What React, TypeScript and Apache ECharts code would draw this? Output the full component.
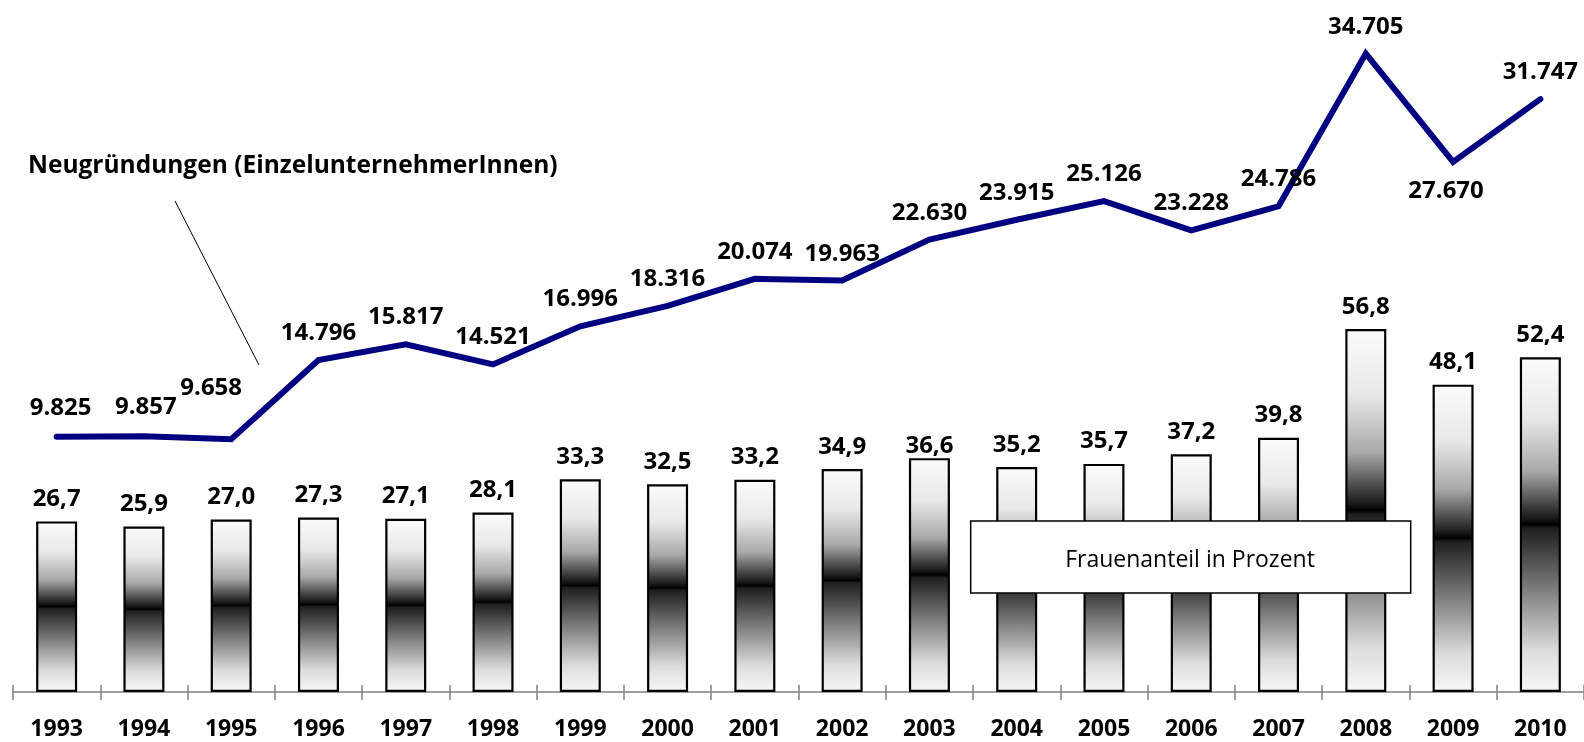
import React, { useEffect, useRef } from 'react';
import * as echarts from 'echarts';

const years = ['1993', '1994', '1995', '1996', '1997', '1998', '1999', '2000', '2001', '2002', '2003', '2004', '2005', '2006', '2007', '2008', '2009', '2010'];
const womenShare = [26.7, 25.9, 27.0, 27.3, 27.1, 28.1, 33.3, 32.5, 33.2, 34.9, 36.6, 35.2, 35.7, 37.2, 39.8, 56.8, 48.1, 52.4];
const startups = [9825, 9857, 9658, 14796, 15817, 14521, 16996, 18316, 20074, 19963, 22630, 23915, 25126, 23228, 24786, 34705, 27670, 31747];
const lineTitle = 'Neugründungen (EinzelunternehmerInnen)';
const barTitle = 'Frauenanteil in Prozent';

const FONT = "'Open Sans', sans-serif";

const fmtThousands = (v: number) => Math.round(v).toString().replace(/\B(?=(\d{3})+(?!\d))/g, '.');
const fmtDecimal = (v: number) => v.toFixed(1).replace('.', ',');

const lineLabelShift: Record<number, [number, number]> = {
  0: [4, -2],
  1: [2, -2],
  2: [-20, -24],
  16: [-7, 0],
};
const lineLabelBelow = [16];
const barLabelTweaks: Record<number, any> = {
  10: { offset: [0, 10] },
};

export default function App() {
  const ref = useRef<HTMLDivElement>(null);
  useEffect(() => {
    if (!ref.current) return;
    const chart = echarts.init(ref.current, null, { renderer: 'svg' });
    const barGradient = new echarts.graphic.LinearGradient(0, 0, 0, 1, [
      { offset: 0, color: '#fbfbfb' },
      { offset: 0.18, color: '#e8e8e8' },
      { offset: 0.34, color: '#a8a8a8' },
      { offset: 0.48, color: '#1a1a1a' },
      { offset: 0.5, color: '#000000' },
      { offset: 0.51, color: '#1e1e1e' },
      { offset: 0.7, color: '#808080' },
      { offset: 0.88, color: '#dcdcdc' },
      { offset: 1, color: '#f7f7f7' },
    ]);
    chart.setOption({
      animation: false,
      grid: { left: 13, right: 0, top: 0, bottom: 50 },
      xAxis: [
        {
          type: 'category',
          data: years,
          position: 'bottom',
          axisLine: { show: true, onZero: false, lineStyle: { color: '#808080', width: 1.5 } },
          axisTick: { show: true, inside: false, length: 8, lineStyle: { color: '#808080', width: 1.5 } },
          axisLabel: { show: true, margin: 25, lineHeight: 20, fontFamily: FONT, fontWeight: 'bold', fontSize: 23, color: '#000' },
          splitLine: { show: false },
        },
        {
          type: 'category',
          data: years,
          position: 'bottom',
          axisLine: { show: false, onZero: false },
          axisTick: { show: true, inside: true, length: 7, lineStyle: { color: '#808080', width: 1.5 } },
          axisLabel: { show: false },
          splitLine: { show: false },
        },
      ],
      yAxis: [
        { type: 'value', min: 0, max: 108.3, show: false, splitLine: { show: false } },
        { type: 'value', min: -6753, max: 38182, show: false, splitLine: { show: false } },
      ],
      series: [
        {
          type: 'bar',
          xAxisIndex: 0,
          yAxisIndex: 0,
          barWidth: 41,
          data: womenShare.map((v, i) => ({ value: v, label: barLabelTweaks[i] })),
          itemStyle: { color: barGradient, borderColor: '#000', borderWidth: 2.2 },
          label: {
            show: true,
            position: 'top',
            distance: 13,
            fontFamily: FONT,
            fontWeight: 'bold',
            fontSize: 24,
            color: '#000',
            formatter: (p: any) => fmtDecimal(p.value),
          },
          z: 2,
        },
        {
          type: 'line',
          xAxisIndex: 0,
          yAxisIndex: 1,
          data: startups.map((v, i) =>
            lineLabelBelow.includes(i) ? { value: v, label: { position: 'bottom', distance: 14 } } : { value: v }
          ),
          symbol: 'circle',
          symbolSize: 1,
          showSymbol: true,
          showAllSymbol: true,
          itemStyle: { color: 'rgba(0,0,0,0)', borderWidth: 0 },
          lineStyle: { color: '#000080', width: 6, cap: 'round', join: 'miter' },
          label: {
            show: true,
            position: 'top',
            distance: 17,
            fontFamily: FONT,
            fontWeight: 'bold',
            fontSize: 24,
            color: '#000',
            formatter: (p: any) => fmtThousands(p.value),
          },
          labelLayout: (p: any) => {
            const s = lineLabelShift[p.dataIndex];
            return s ? { dx: s[0], dy: s[1] } : {};
          },
          z: 3,
        },
      ],
      graphic: [
        {
          type: 'text',
          left: 28,
          top: 151,
          style: { text: lineTitle, font: `bold 24.5px ${FONT}`, fill: '#000' },
          z: 10,
        },
        {
          type: 'line',
          shape: { x1: 175, y1: 201, x2: 259, y2: 365 },
          style: { stroke: '#000', lineWidth: 1 },
          z: 10,
        },
        {
          type: 'rect',
          shape: { x: 970.7, y: 521, width: 440, height: 72 },
          style: { fill: '#fff', stroke: '#000', lineWidth: 1.5 },
          z: 10,
        },
        {
          type: 'text',
          x: 1190,
          y: 557.5,
          style: { text: barTitle, font: `23px ${FONT}`, fill: '#000', align: 'center', verticalAlign: 'middle' },
          z: 11,
        },
      ],
    });
    return () => chart.dispose();
  }, []);
  return <div ref={ref} style={{ position: 'fixed', left: 0, top: 0, width: 1584, height: 742 }} />;
}
